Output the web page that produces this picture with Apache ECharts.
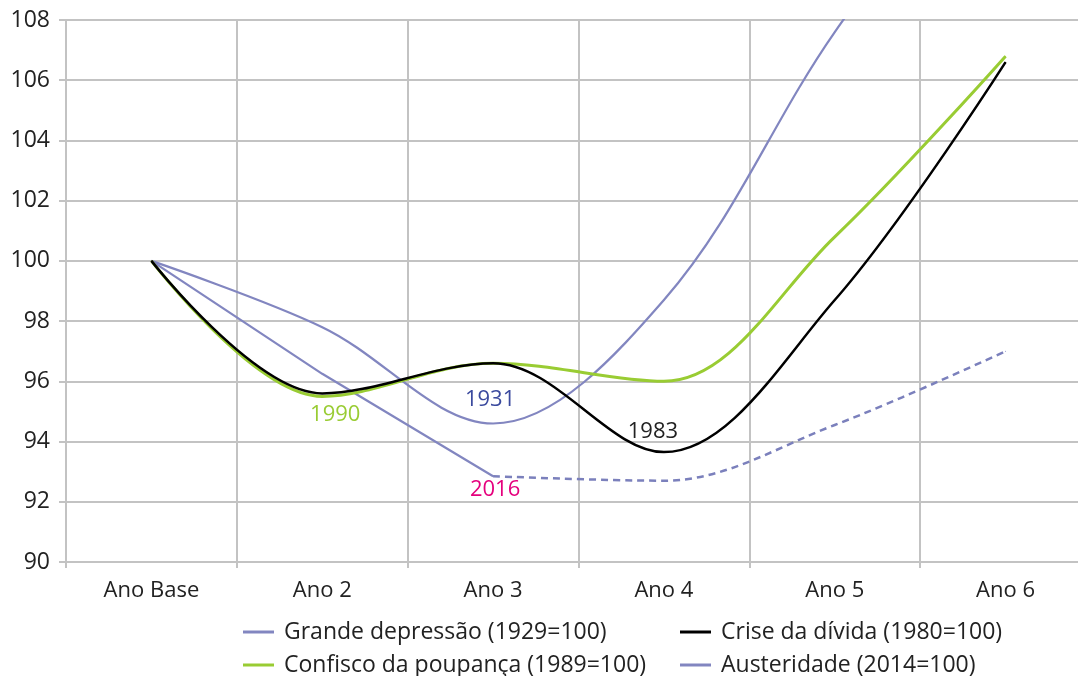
<!DOCTYPE html>
<html>
<head>
<meta charset="utf-8">
<script src="https://cdn.jsdelivr.net/npm/echarts@6/dist/echarts.min.js"></script>
<style>
html,body{margin:0;padding:0;background:#fff;}
#chart{width:1078px;height:676px;}
</style>
</head>
<body>
<div id="chart"></div>
<script>
const categories = ['Ano Base', 'Ano 2', 'Ano 3', 'Ano 4', 'Ano 5', 'Ano 6'];
const seriesNames = ['Grande depressão (1929=100)', 'Crise da dívida (1980=100)', 'Confisco da poupança (1989=100)', 'Austeridade (2014=100)'];
const grandeDepressao = [100, 97.8, 94.6, 98.7, 107.6, 115];
const criseDivida = [100, 95.6, 96.6, 93.65, 98.7, 106.6];
const confisco = [100, 95.5, 96.6, 96.0, 100.8, 106.8];
const austeridadeReal = [100, 96.25, 92.85, null, null, null];
const austeridadeProj = [null, null, 92.85, 92.7, 94.55, 97.0];
const yTicks = {min: 90, max: 108, interval: 2};
const annotations = {
  grande: {idx: 2, text: '1931'},
  crise: {idx: 3, text: '1983'},
  confisco: {idx: 1, text: '1990'},
  austeridade: {idx: 2, text: '2016'}
};

const FONT = '"Open Sans", "Noto Sans", sans-serif';
const C_BLUE = '#8286c0';
const C_BLACK = '#000000';
const C_GREEN = '#99cc33';

function withLabel(values, ann, labelOpts) {
  return values.map((v, i) => {
    if (v === null) return '-';
    if (i === ann.idx) {
      return {value: v, label: Object.assign({show: true, formatter: ann.text, fontFamily: FONT, fontSize: 22}, labelOpts)};
    }
    return v;
  });
}

const chart = echarts.init(document.getElementById('chart'), null, {renderer: 'canvas'});
const base = {type: 'line', symbol: 'circle', symbolSize: 1, showSymbol: true, animation: false, emphasis: {disabled: true}, label: {show: false}};
const legendText = {fontFamily: FONT, fontSize: 23, color: '#222', lineHeight: 24, padding: [0, 0, 0, 5]};

chart.setOption({
  backgroundColor: '#ffffff',
  animation: false,
  grid: {left: 66, top: 20, width: 1025, height: 542, outerBoundsMode: 'none', containLabel: false},
  legend: [
    {
      data: [seriesNames[0], seriesNames[2]],
      orient: 'vertical', left: 243, top: 620, itemGap: 9, padding: 0, height: 60,
      icon: 'rect', itemWidth: 31, itemHeight: 3,
      textStyle: legendText,
      selectedMode: false
    },
    {
      data: [seriesNames[1], seriesNames[3]],
      orient: 'vertical', left: 680, top: 620, itemGap: 9, padding: 0, height: 60,
      icon: 'rect', itemWidth: 31, itemHeight: 3,
      textStyle: legendText,
      selectedMode: false
    }
  ],
  xAxis: {
    type: 'category', data: categories, boundaryGap: true,
    axisLine: {show: true, lineStyle: {color: '#c3c3c3', width: 2}},
    axisTick: {show: true, length: 6, lineStyle: {color: '#c3c3c3', width: 2}},
    splitLine: {show: true, lineStyle: {color: '#c3c3c3', width: 2}},
    axisLabel: {fontFamily: FONT, fontSize: 22, color: '#222', margin: 18}
  },
  yAxis: {
    type: 'value', min: yTicks.min, max: yTicks.max, interval: yTicks.interval,
    axisLine: {show: true, lineStyle: {color: '#c3c3c3', width: 2}},
    axisTick: {show: true, length: 7, lineStyle: {color: '#c3c3c3', width: 2}},
    splitLine: {show: true, lineStyle: {color: '#c3c3c3', width: 2}},
    axisLabel: {fontFamily: FONT, fontSize: 23, color: '#222', margin: 16}
  },
  series: [
    Object.assign({}, base, {
      name: seriesNames[0], smooth: 0.35, clip: true, z: 3,
      color: C_BLUE, lineStyle: {color: C_BLUE, width: 2.2},
      data: withLabel(grandeDepressao, annotations.grande, {position: 'top', distance: 12, offset: [-3, 0], color: '#3b4a9e'})
    }),
    Object.assign({}, base, {
      name: seriesNames[2], smooth: 0.35, z: 4,
      color: C_GREEN, lineStyle: {color: C_GREEN, width: 3},
      data: withLabel(confisco, annotations.confisco, {position: 'bottom', distance: 7, offset: [13, 0], color: '#99cc33'})
    }),
    Object.assign({}, base, {
      name: seriesNames[1], smooth: 0.35, z: 5,
      color: C_BLACK, lineStyle: {color: C_BLACK, width: 2.5},
      data: withLabel(criseDivida, annotations.crise, {position: 'top', distance: 9, offset: [-11, 0], color: '#222'})
    }),
    Object.assign({}, base, {
      name: seriesNames[3], smooth: false, z: 3,
      color: C_BLUE, lineStyle: {color: C_BLUE, width: 2.2},
      data: withLabel(austeridadeReal, annotations.austeridade, {position: 'bottom', distance: 2, offset: [2, 0], color: '#e5007d'})
    }),
    Object.assign({}, base, {
      name: 'Austeridade projeção', smooth: 0.35, z: 3,
      color: C_BLUE, lineStyle: {color: '#7b80bc', width: 2.5, type: [7, 5]},
      data: austeridadeProj.map(v => v === null ? '-' : v)
    })
  ]
});
</script>
</body>
</html>
